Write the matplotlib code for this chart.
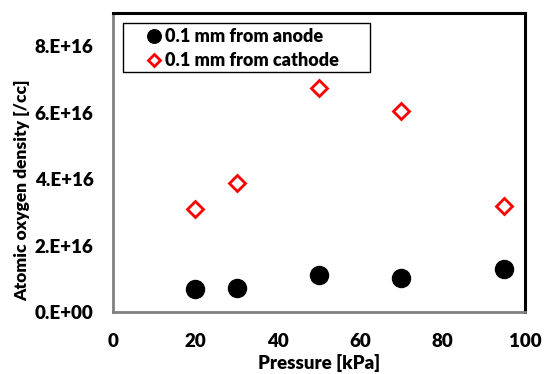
import matplotlib
matplotlib.use("Agg")
import matplotlib.pyplot as plt
from matplotlib.patches import Rectangle
from matplotlib.ticker import FuncFormatter

# data
pressure = [20, 30, 50, 70, 95]
anode = [0.71e16, 0.73e16, 1.12e16, 1.03e16, 1.31e16]
cathode = [3.09e16, 3.87e16, 6.74e16, 6.05e16, 3.19e16]
x_ticks = [0, 20, 40, 60, 80, 100]
y_ticks = [0, 2e16, 4e16, 6e16, 8e16]

plt.rcParams["font.family"] = ["Lato", "DejaVu Sans"]
W = "heavy"


def sci_label(v, _pos):
    if v == 0:
        return "0.E+00"
    return f"{v / 1e16:.0f}.E+16"


fig = plt.figure(figsize=(5.46, 3.74), dpi=100)
ax = fig.add_axes([0.207, 0.165, 0.7545, 0.801])

ax.plot(pressure, anode, "o", color="black", ms=13, label="0.1 mm from anode", zorder=3)
ax.plot(pressure, cathode, "D", mfc="white", mec="#ff0000", mew=2, ms=8.3,
        label="0.1 mm from cathode", zorder=3)

ax.set_xlim(0, 100)
ax.set_ylim(0, 9e16)
ax.set_xticks(x_ticks)
ax.set_yticks(y_ticks)
ax.yaxis.set_major_formatter(FuncFormatter(sci_label))
ax.tick_params(length=0, labelsize=13.5)
ax.tick_params(axis="y", pad=14)
ax.tick_params(axis="x", pad=15)
for lab in ax.get_xticklabels() + ax.get_yticklabels():
    lab.set_fontweight(W)

ax.set_xlabel("Pressure [kPa]", fontsize=13.5, fontweight=W, labelpad=3)
ax.set_ylabel("Atomic oxygen density [/cc]", fontsize=12.5, fontweight=W)
ax.yaxis.set_label_coords(-0.201, 0.408)

for side in ("left", "bottom"):
    ax.spines[side].set_color("#808080")
    ax.spines[side].set_linewidth(2)
for side in ("top", "right"):
    ax.spines[side].set_color("black")
    ax.spines[side].set_linewidth(2.2)

# legend box drawn separately so the padding matches the original
ax.add_patch(Rectangle((0.0243, 0.803), 0.5995, 0.1616, transform=ax.transAxes,
                       facecolor="white", edgecolor="black", linewidth=1, zorder=4))
leg = ax.legend(loc="upper left", bbox_to_anchor=(0.077, 0.948), fontsize=13,
                frameon=False, handletextpad=0.1, borderpad=0, labelspacing=0.38,
                handlelength=1.0, borderaxespad=0, markerscale=0.75)
leg.set_zorder(5)
for t in leg.get_texts():
    t.set_fontweight(W)

fig.savefig("out.png", dpi=100)
